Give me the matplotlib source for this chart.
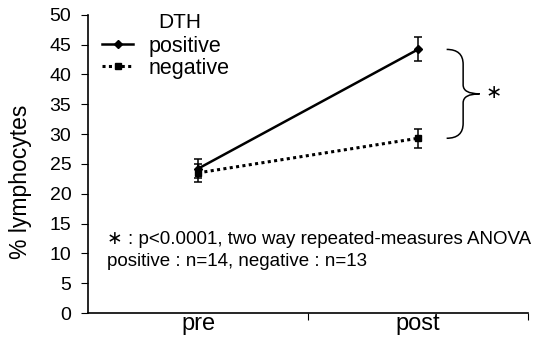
import matplotlib
matplotlib.use('Agg')
import matplotlib.pyplot as plt
from matplotlib.lines import Line2D
from matplotlib.path import Path
from matplotlib.patches import PathPatch

plt.rcParams['font.family'] = ['Liberation Sans', 'DejaVu Sans']

categories = ['pre', 'post']
positive = [24.2, 44.2]
positive_err = [1.6, 2.0]
negative = [23.5, 29.3]
negative_err = [1.5, 1.6]

fig = plt.figure(figsize=(5.35, 3.4), dpi=100)
ax = fig.add_axes([0.1645, 0.0794, 0.8225, 0.877])

x = list(range(len(categories)))
dotted = (0, (1, 1.1))
ax.errorbar(x, positive, yerr=positive_err, color='black', lw=1.8, ls='-',
            marker='D', ms=4, capsize=3.2, elinewidth=1.1, capthick=1.1)
ax.errorbar(x, negative, yerr=negative_err, color='black', lw=2.2, ls=dotted,
            marker='s', ms=4.5, capsize=3.2, elinewidth=1.1, capthick=1.1)

ax.set_xlim(-0.5, 1.5)
ax.set_ylim(0, 50)
ax.set_yticks(range(0, 51, 5))
ax.set_xticks([0.5, 1.5])
ax.set_xticklabels([])
ax.set_xticks(x, minor=True)
ax.set_xticklabels(categories, minor=True, fontsize=17)
ax.tick_params(axis='x', which='minor', length=0, pad=0)
ax.tick_params(axis='x', which='major', length=5, direction='out')
ax.tick_params(axis='y', length=5, direction='out', labelsize=14, pad=7)
for s in ['top', 'right']:
    ax.spines[s].set_visible(False)
ax.spines['left'].set_linewidth(1.2)
ax.spines['bottom'].set_linewidth(1.2)

ax.set_ylabel('% lymphocytes', fontsize=16.5)
ax.yaxis.set_label_coords(-0.127, 0.44)

handles = [Line2D([], [], color='black', lw=1.8, ls='-', marker='D', ms=4),
           Line2D([], [], color='black', lw=2.2, ls=dotted, marker='s', ms=4.5)]
ax.legend(handles, ['positive', 'negative'], loc='upper left',
          bbox_to_anchor=(0.032, 0.93), frameon=False, fontsize=15.5,
          handlelength=1.45, handletextpad=0.7, labelspacing=0.05,
          borderpad=0, borderaxespad=0)
ax.text(0.209, 0.975, 'DTH', transform=ax.transAxes, fontsize=15,
        ha='center', va='center')

# brace between the two post values
bx0, bx1 = 1.13, 1.28
ytop, ybot = positive[1], negative[1]
ym = (ytop + ybot) / 2
xm = (bx0 + bx1) / 2
codes = [Path.MOVETO, Path.CURVE3, Path.CURVE3, Path.LINETO,
         Path.CURVE3, Path.CURVE3, Path.MOVETO, Path.CURVE3,
         Path.CURVE3, Path.LINETO, Path.CURVE3, Path.CURVE3]
verts = [(bx0, ytop), (xm, ytop), (xm, ytop - 2.5), (xm, ym + 1.5),
         (xm, ym), (bx1, ym), (bx1, ym), (xm, ym),
         (xm, ym - 1.5), (xm, ybot + 2.5), (xm, ybot), (bx0, ybot)]
ax.add_patch(PathPatch(Path(verts, codes), fill=False, lw=1.1, color='black',
                       clip_on=False))
ax.text(1.345, ym, '∗', fontsize=14, ha='center', va='center')

ax.text(-0.414, 12.4, '∗ : p<0.0001, two way repeated-measures ANOVA',
        fontsize=13.5, ha='left', va='center')
ax.text(-0.414, 8.7, 'positive : n=14, negative : n=13',
        fontsize=13.5, ha='left', va='center')

plt.savefig('out.png', dpi=100)
